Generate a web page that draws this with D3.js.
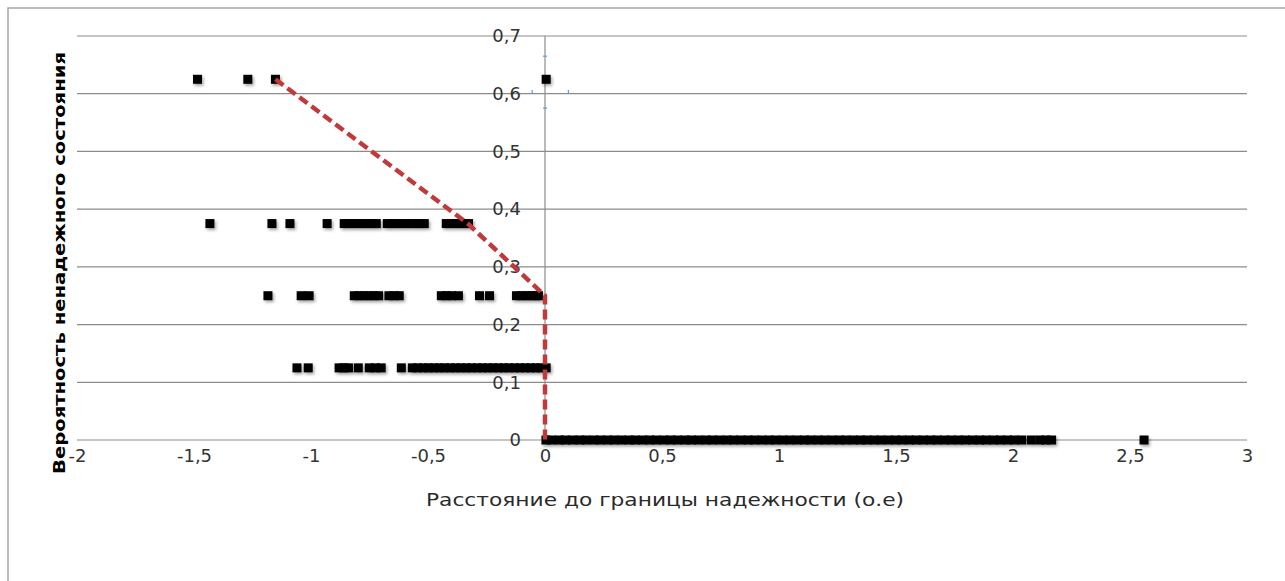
<!DOCTYPE html>
<html>
<head>
<meta charset="utf-8">
<script src="https://cdn.jsdelivr.net/npm/d3@7"></script>
<style>
  body { margin: 0; background: #fff; }
  svg { display: block; }
</style>
</head>
<body>
<svg id="chart"></svg>
<script>
// levels of the probability and the distances
const yLevels = [0.625, 0.375, 0.25, 0.125, 0];

const x625 = [-1.485, -1.27, -1.152, 0.005];
const x375 = [-1.432, -1.167, -1.09, -0.931,
  -0.858, -0.838, -0.818, -0.797, -0.776, -0.755, -0.738, -0.721,
  -0.674, -0.652, -0.633, -0.611, -0.59, -0.568, -0.547, -0.53, -0.516,
  -0.422, -0.401, -0.38, -0.36, -0.342, -0.327];
const x25 = [-1.184, -1.042, -1.008,
  -0.815, -0.794, -0.773, -0.752, -0.731, -0.711, -0.667, -0.645, -0.623,
  -0.443, -0.42, -0.4, -0.37, -0.28, -0.237,
  -0.122, -0.1, -0.08, -0.06, -0.04, -0.028];
const x125 = [-1.06, -1.012, -0.88, -0.86, -0.84, -0.798, -0.751, -0.725, -0.7, -0.614,
  -0.567, -0.545, -0.52, -0.498, -0.475, -0.452, -0.43, -0.405, -0.383, -0.36,
  -0.337, -0.315, -0.29, -0.268, -0.245, -0.222, -0.2, -0.177, -0.155, -0.13,
  -0.108, -0.085, -0.062, -0.04, -0.018, 0.005];
const x0 = [0.004, 0.028, 0.061, 0.087, 0.118, 0.149, 0.176, 0.209, 0.237, 0.268,
  0.296, 0.327, 0.359, 0.386, 0.418, 0.447, 0.476, 0.508, 0.537, 0.566,
  0.598, 0.626, 0.657, 0.688, 0.716, 0.747, 0.778, 0.806, 0.837, 0.868,
  0.896, 0.927, 0.958, 0.986, 1.017, 1.046, 1.077, 1.108, 1.136, 1.167,
  1.196, 1.227, 1.258, 1.286, 1.317, 1.348, 1.376, 1.407, 1.436, 1.467,
  1.498, 1.526, 1.557, 1.586, 1.617, 1.648, 1.676, 1.707, 1.736, 1.767,
  1.796, 1.827, 1.858, 1.886, 1.917, 1.946, 1.977, 2.006, 2.037, 2.078,
  2.115, 2.14, 2.165, 2.56];
const xRows = [x625, x375, x25, x125, x0];

// red dashed envelope
const lineX = [-1.152, -0.33, 0.0, 0.0, 0.0];
const lineY = [0.625, 0.375, 0.25, 0.125, 0];

// small blue error caps around the point at (0, 0.625)
const capX = [0, 0, -0.055, 0.1];
const capY = [0.665, 0.575, 0.603, 0.603];
const capDir = ["h", "h", "v", "v"];

const xTicks = [-2, -1.5, -1, -0.5, 0, 0.5, 1, 1.5, 2, 2.5, 3];
const yTicks = [0, 0.1, 0.2, 0.3, 0.4, 0.5, 0.6, 0.7];

const xTitle = "Расстояние до границы надежности (о.е)";
const yTitle = "Вероятность ненадежного состояния";

const W = 1285, H = 581;
const svg = d3.select("#chart").attr("width", W).attr("height", H);

const x = d3.scaleLinear().domain([-2, 3]).range([77, 1247]);
const y = d3.scaleLinear().domain([0, 0.7]).range([440, 36]);

const ru = d3.formatLocale({decimal: ",", thousands: " ", grouping: [3], currency: ["", ""], minus: "-"});
const fmt = ru.format("~g");

const defs = svg.append("defs");
defs.append("filter").attr("id", "shadow")
    .attr("x", "-50%").attr("y", "-50%").attr("width", "200%").attr("height", "200%")
  .append("feDropShadow")
    .attr("dx", 1.5).attr("dy", 2).attr("stdDeviation", 1.4)
    .attr("flood-color", "#000").attr("flood-opacity", 0.35);

// outer frame (only top and left visible)
svg.append("rect")
    .attr("x", 8).attr("y", 8).attr("width", W).attr("height", H)
    .attr("fill", "none").attr("stroke", "#a6a6a6").attr("stroke-width", 1.5);

// grid
svg.append("g")
  .selectAll("line")
  .data(yTicks)
  .join("line")
    .attr("x1", x(-2)).attr("x2", x(3))
    .attr("y1", d => y(d)).attr("y2", d => y(d))
    .attr("stroke", "#8c8c8c").attr("stroke-width", 1.2);

// y axis line at x = 0
svg.append("line")
    .attr("x1", x(0)).attr("x2", x(0))
    .attr("y1", y(0)).attr("y2", y(0.7))
    .attr("stroke", "#8c8c8c").attr("stroke-width", 1.2);

const xAxis = svg.append("g")
    .attr("transform", `translate(0,${y(0)})`)
    .call(d3.axisBottom(x).tickValues(xTicks).tickFormat(fmt).tickSize(0).tickPadding(9));
xAxis.select(".domain").remove();

const yAxis = svg.append("g")
    .attr("transform", `translate(${x(0)},0)`)
    .call(d3.axisLeft(y).tickValues(yTicks).tickFormat(fmt).tickSize(0).tickPadding(24));
yAxis.select(".domain").remove();

svg.selectAll(".tick text")
    .attr("font-family", "DejaVu Sans, sans-serif")
    .attr("font-size", 18)
    .attr("fill", "#333");

// error caps
const capLen = 4;
svg.append("g")
  .selectAll("line")
  .data(capX.map((d, i) => ({x: d, y: capY[i], dir: capDir[i]})))
  .join("line")
    .attr("x1", d => d.dir === "h" ? x(d.x) - capLen / 2 : x(d.x))
    .attr("x2", d => d.dir === "h" ? x(d.x) + capLen / 2 : x(d.x))
    .attr("y1", d => d.dir === "v" ? y(d.y) - capLen / 2 : y(d.y))
    .attr("y2", d => d.dir === "v" ? y(d.y) + capLen / 2 : y(d.y))
    .attr("stroke", "#5b9bd5").attr("stroke-width", 1.2);

// markers
const pts = [];
xRows.forEach((row, i) => row.forEach(v => pts.push({x: v, y: yLevels[i]})));

const ms = 9;
svg.append("g")
    .attr("filter", "url(#shadow)")
  .selectAll("rect")
  .data(pts)
  .join("rect")
    .attr("x", d => x(d.x) - ms / 2)
    .attr("y", d => y(d.y) - ms / 2)
    .attr("width", ms).attr("height", ms)
    .attr("fill", "#000");

// red dashed line
svg.append("path")
    .datum(lineX.map((d, i) => [d, lineY[i]]))
    .attr("d", d3.line().x(d => x(d[0])).y(d => y(d[1])))
    .attr("fill", "none")
    .attr("stroke", "#c0393b")
    .attr("stroke-width", 4.5)
    .attr("stroke-dasharray", "10,5");

// titles
svg.append("text")
    .attr("x", 665).attr("y", 506)
    .attr("text-anchor", "middle")
    .attr("font-family", "DejaVu Sans, sans-serif")
    .attr("font-size", 17)
    .attr("fill", "#2a2a2a")
    .attr("textLength", 478)
    .attr("lengthAdjust", "spacingAndGlyphs")
    .text(xTitle);

svg.append("text")
    .attr("transform", "translate(65,263) rotate(-90)")
    .attr("text-anchor", "middle")
    .attr("font-family", "DejaVu Sans, sans-serif")
    .attr("font-weight", "bold")
    .attr("font-size", 16)
    .attr("fill", "#000")
    .attr("textLength", 422)
    .attr("lengthAdjust", "spacingAndGlyphs")
    .text(yTitle);
</script>
</body>
</html>
